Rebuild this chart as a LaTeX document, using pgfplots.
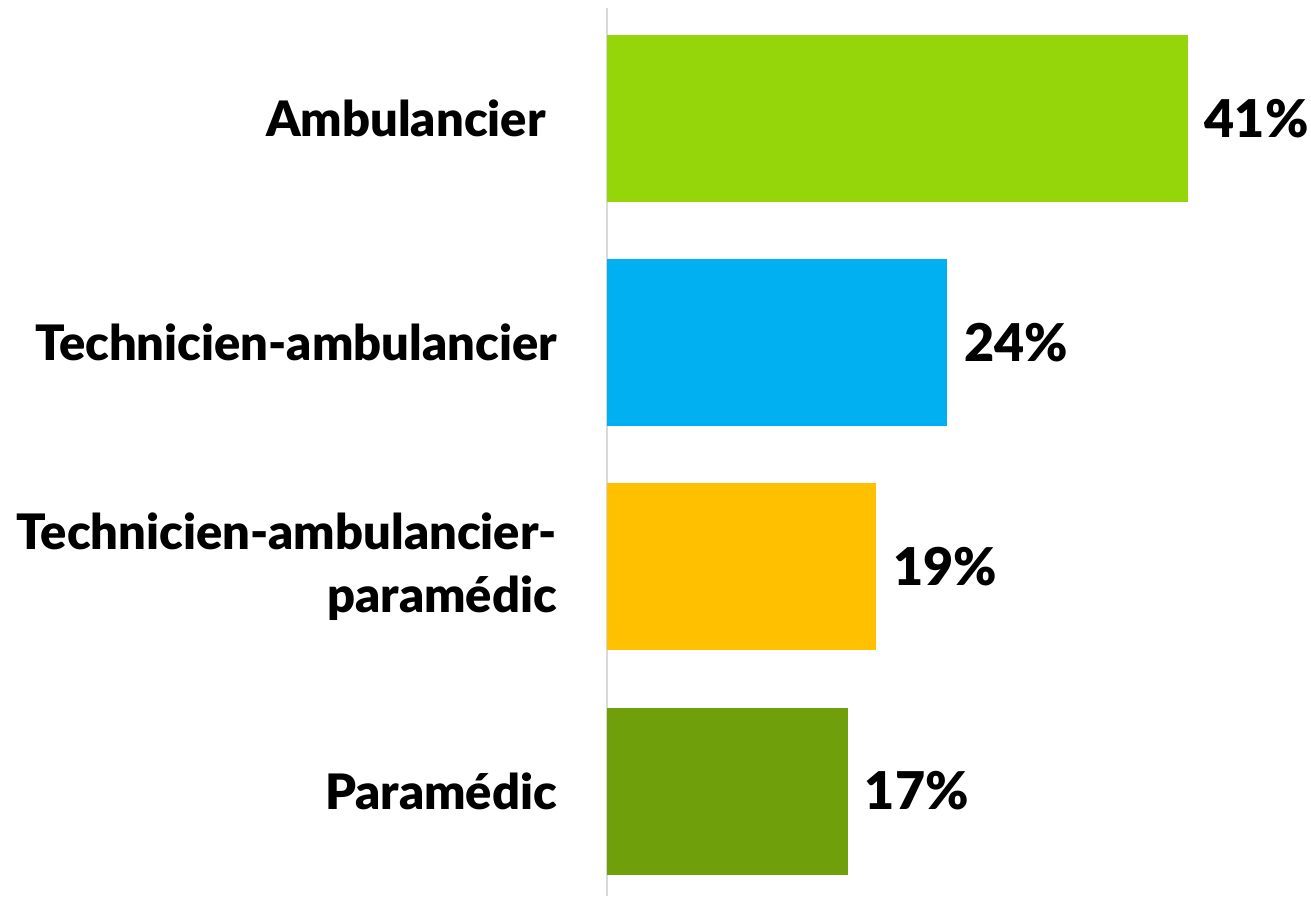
\documentclass[border=0pt]{standalone}
\usepackage{fontspec}
\setmainfont{Lato}[UprightFont=* Black, BoldFont=* Black]
\usepackage{pgfplots}
\pgfplotsset{compat=1.18}
\definecolor{cA}{HTML}{95D60A}
\definecolor{cB}{HTML}{00B0F0}
\definecolor{cC}{HTML}{FFC000}
\definecolor{cD}{HTML}{6FA00C}
\definecolor{axgray}{HTML}{D9D9D9}
\begin{document}
\begin{tikzpicture}
\useasboundingbox (-303.5pt,0pt) rectangle (352pt,448pt);
\begin{axis}[
  at={(0pt,0pt)}, anchor=south west,
  scale only axis, width=352pt, height=444pt,
  xmin=0, xmax=49.7, ymin=-0.492, ymax=3.468,
  y dir=reverse,
  xbar, bar width=83.5pt, bar shift=0pt,
  axis x line=none,
  axis y line*=left,
  y axis line style={draw=axgray, line width=1pt},
  ytick={0,1,2,3}, major tick length=0pt,
  yticklabels={{Ambulancier\ },{Technicien-ambulancier},{Technicien-ambulancier-\\paramédic},{Paramédic}},
  yticklabel style={font=\fontsize{24.4}{31.5}\selectfont, align=right, xshift=-21.5pt},
  clip=false,
  /pgf/number format/assume math mode=true,
  nodes near coords={\pgfmathprintnumber{\pgfplotspointmeta}\%},
  every node near coord/.append style={font=\fontsize{26}{30}\selectfont, anchor=west, xshift=5pt},
]
\addplot[fill=cA, draw=none] coordinates {(41,0)};
\addplot[fill=cB, draw=none] coordinates {(24,1)};
\addplot[fill=cC, draw=none] coordinates {(19,2)};
\addplot[fill=cD, draw=none] coordinates {(17,3)};
\end{axis}
\end{tikzpicture}
\end{document}
